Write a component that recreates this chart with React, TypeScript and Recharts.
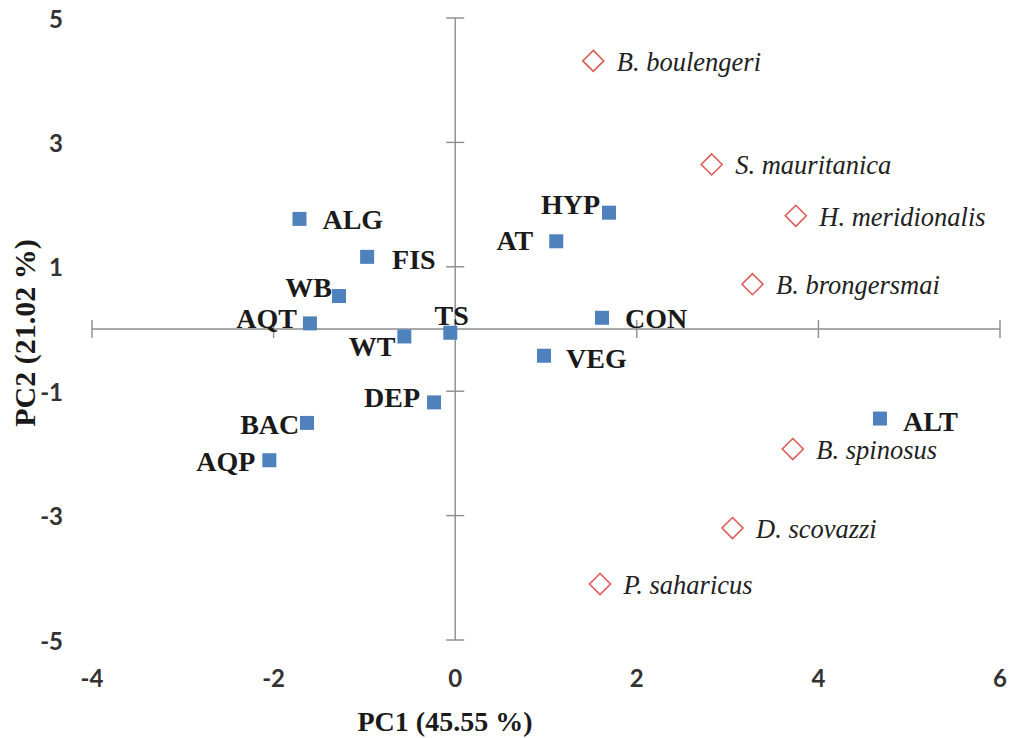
import React from 'react';
import { ScatterChart, Scatter, XAxis, YAxis, ReferenceLine } from 'recharts';

// Environmental variables (blue squares)
const envNames = ['ALG', 'FIS', 'WB', 'AQT', 'TS', 'WT', 'DEP', 'BAC', 'AQP', 'HYP', 'AT', 'CON', 'VEG', 'ALT'];
const envPC1 = [-1.715, -0.97, -1.28, -1.6, -0.054, -0.56, -0.233, -1.632, -2.047, 1.694, 1.113, 1.617, 0.978, 4.678];
const envPC2 = [1.77, 1.16, 0.53, 0.09, -0.06, -0.12, -1.18, -1.51, -2.11, 1.87, 1.41, 0.18, -0.43, -1.44];

// Species (red open diamonds)
const speciesNames = ['B. boulengeri', 'S. mauritanica', 'H. meridionalis', 'B. brongersmai', 'B. spinosus', 'D. scovazzi', 'P. saharicus'];
const speciesPC1 = [1.521, 2.825, 3.751, 3.274, 3.718, 3.054, 1.595];
const speciesPC2 = [4.31, 2.645, 1.82, 0.72, -1.93, -3.2, -4.1];

// Axis ticks
const xTicks = [-4, -2, 0, 2, 4, 6];
const yTicks = [5, 3, 1, -1, -3, -5];
const xTitle = 'PC1 (45.55 %)';
const yTitle = 'PC2 (21.02 %)';

// Label placement (style only): anchor side and pixel offsets
const envLabelStyle: Record<string, { anchor: 'start' | 'end' | 'middle'; dx: number; dy: number }> = {
  ALG: { anchor: 'start', dx: 23, dy: 1.5 },
  FIS: { anchor: 'start', dx: 25, dy: 3 },
  WB: { anchor: 'end', dx: -7, dy: -8 },
  AQT: { anchor: 'end', dx: -13, dy: -4.6 },
  TS: { anchor: 'middle', dx: 1.4, dy: -17 },
  WT: { anchor: 'end', dx: -9, dy: 11 },
  DEP: { anchor: 'end', dx: -14, dy: -4 },
  BAC: { anchor: 'end', dx: -7.7, dy: 2.5 },
  AQP: { anchor: 'end', dx: -14, dy: 2 },
  HYP: { anchor: 'end', dx: -9, dy: -7.5 },
  AT: { anchor: 'end', dx: -23, dy: 0 },
  CON: { anchor: 'start', dx: 23, dy: 1 },
  VEG: { anchor: 'start', dx: 22, dy: 3.5 },
  ALT: { anchor: 'start', dx: 23, dy: 3 },
};

const envData = envNames.map((name, i) => ({ name, x: envPC1[i], y: envPC2[i] }));
const speciesData = speciesNames.map((name, i) => ({ name, x: speciesPC1[i], y: speciesPC2[i] }));

const BLUE = '#4F81BD';
const RED = '#DE5A57';
const AXIS = '#8C8C8C';
const SERIF = '"Liberation Serif", "Times New Roman", serif';
const SANS = 'Lato, "Open Sans", sans-serif';

const EnvShape = (props: any) => {
  const { cx, cy, payload } = props;
  if (cx == null || cy == null) return null;
  const st = envLabelStyle[payload.name] || { anchor: 'start', dx: 23, dy: 0 };
  const s = 14;
  return (
    <g>
      <rect x={cx - s / 2} y={cy - s / 2} width={s} height={s} fill={BLUE} />
      <text
        x={cx + st.dx}
        y={cy + st.dy + 9}
        textAnchor={st.anchor}
        fontFamily={SERIF}
        fontWeight="bold"
        fontSize={28}
        fill="#1a1a1a"
      >
        {payload.name}
      </text>
    </g>
  );
};

const SpeciesShape = (props: any) => {
  const { cx, cy, payload } = props;
  if (cx == null || cy == null) return null;
  const r = 10.5;
  return (
    <g>
      <polygon
        points={`${cx},${cy - r} ${cx + r},${cy} ${cx},${cy + r} ${cx - r},${cy}`}
        fill="#fff"
        stroke={RED}
        strokeWidth={1.6}
      />
      <text
        x={cx + 23.5}
        y={cy + 1.5 + 8.5}
        textAnchor="start"
        fontFamily={SERIF}
        fontStyle="italic"
        fontSize={26.5}
        fill="#222"
      >
        {payload.name}
      </text>
    </g>
  );
};

const XTick = (props: any) => {
  const { x, payload } = props;
  return (
    <text x={x} y={677} textAnchor="middle" dominantBaseline="central" fontFamily={SANS} fontWeight="bold" fontSize={24} fill="#333">
      {payload.value}
    </text>
  );
};

const YTick = (props: any) => {
  const { y, payload } = props;
  return (
    <text x={63} y={y} textAnchor="end" dominantBaseline="central" fontFamily={SANS} fontWeight="bold" fontSize={24} fill="#333">
      {payload.value}
    </text>
  );
};

const X_TICK_HALF = 0.145; // in PC2 units (~9px)
const Y_TICK_HALF = 0.1; // in PC1 units (~9px)

export default function App() {
  return (
    <div style={{ position: 'absolute', left: 0, top: 0, width: 1016, height: 738, background: '#fff' }}>
      <ScatterChart width={1016} height={738} margin={{ top: 18, right: 16, bottom: 0, left: 0 }}>
        <XAxis
          type="number"
          dataKey="x"
          domain={[-4, 6]}
          ticks={xTicks}
          axisLine={false}
          tickLine={false}
          tick={<XTick />}
          height={98}
          interval={0}
          allowDataOverflow
          label={{
            content: () => (
              <text x={445} y={731} textAnchor="middle" fontFamily={SERIF} fontWeight="bold" fontSize={28} fill="#1a1a1a">
                {xTitle}
              </text>
            ),
          }}
        />
        <YAxis
          type="number"
          dataKey="y"
          domain={[-5, 5]}
          ticks={yTicks}
          axisLine={false}
          tickLine={false}
          tick={<YTick />}
          width={92}
          interval={0}
          allowDataOverflow
          label={{
            content: () => (
              <text
                transform="translate(35,333) rotate(-90)"
                textAnchor="middle"
                fontFamily={SERIF}
                fontWeight="bold"
                fontSize={30}
                fill="#1a1a1a"
              >
                {yTitle}
              </text>
            ),
          }}
        />
        <ReferenceLine x={0} stroke={AXIS} strokeWidth={1.4} />
        <ReferenceLine y={0} stroke={AXIS} strokeWidth={1.4} />
        {yTicks.map((t) => (
          <ReferenceLine
            key={'yt' + t}
            segment={[
              { x: -Y_TICK_HALF, y: t },
              { x: Y_TICK_HALF, y: t },
            ]}
            stroke={AXIS}
            strokeWidth={1.4}
            ifOverflow="visible"
          />
        ))}
        {xTicks.map((t) => (
          <ReferenceLine
            key={'xt' + t}
            segment={[
              { x: t, y: -X_TICK_HALF },
              { x: t, y: X_TICK_HALF },
            ]}
            stroke={AXIS}
            strokeWidth={1.4}
            ifOverflow="visible"
          />
        ))}
        <Scatter data={speciesData} shape={<SpeciesShape />} isAnimationActive={false} />
        <Scatter data={envData} shape={<EnvShape />} isAnimationActive={false} />
      </ScatterChart>
    </div>
  );
}
